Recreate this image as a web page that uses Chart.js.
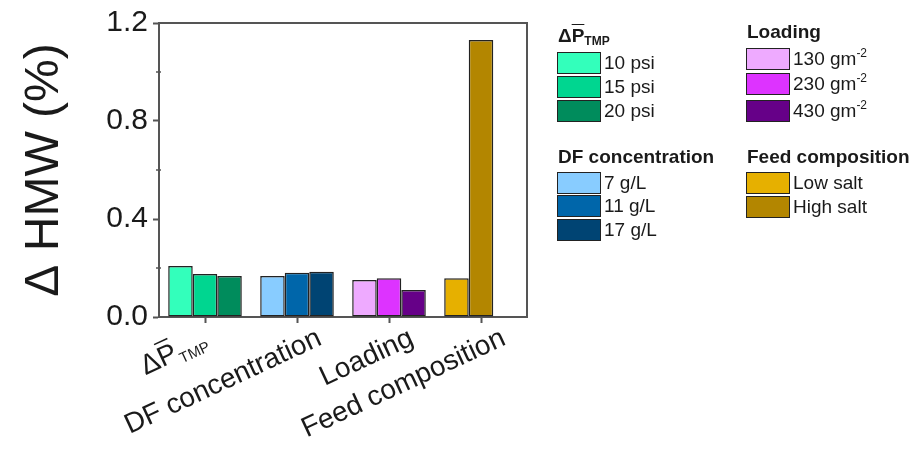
<!DOCTYPE html>
<html>
<head>
<meta charset="utf-8">
<script src="https://cdn.jsdelivr.net/npm/chart.js@4"></script>
<style>
  body { margin: 0; background: #fff; }
  #wrap { position: relative; width: 920px; height: 453px; }
  #legend { position: absolute; left: 0; top: 0; font-family: 'Liberation Sans', Arial, sans-serif; color: #1a1a1a; }
  .hdr { position: absolute; font-weight: bold; font-size: 19px; line-height: 20px; white-space: nowrap; }
  .hdr sub { font-size: 12px; line-height: 0; position: relative; top: 3px; vertical-align: baseline; }
  .ov { text-decoration: overline; }
  .sw { position: absolute; box-sizing: border-box; width: 44px; height: 22px; border: 1.5px solid #222; }
  .lbl { position: absolute; font-size: 19px; line-height: 22px; white-space: nowrap; }
  .lbl sup { font-size: 12px; line-height: 0; position: relative; top: -8px; vertical-align: baseline; }
</style>
</head>
<body>
<div id="wrap">
  <canvas id="hmwChart" width="920" height="453"></canvas>
  <div id="legend"></div>
</div>
<script>
// categories on the x axis ("_" marks the subscript of the first one)
const categories = ['ΔP_TMP', 'DF concentration', 'Loading', 'Feed composition'];

// values (ΔHMW, %)
const tmpValues = [0.208, 0.176, 0.167];
const dfValues = [0.167, 0.181, 0.185];
const loadingValues = [0.151, 0.158, 0.110];
const feedValues = [0.158, 1.131];

const yTicks = [0.0, 0.4, 0.8, 1.2];

// legend texts
const tmpLabels = ['10 psi', '15 psi', '20 psi'];
const dfLabels = ['7 g/L', '11 g/L', '17 g/L'];
const loadingLabels = ['130 gm<sup>-2</sup>', '230 gm<sup>-2</sup>', '430 gm<sup>-2</sup>'];
const feedLabels = ['Low salt', 'High salt'];

// colours
const tmpColors = ['#33ffbb', '#00d690', '#008c5c'];
const dfColors = ['#88ccff', '#0066aa', '#004473'];
const loadingColors = ['#eeaaff', '#dd33ff', '#660088'];
const feedColors = ['#e6b000', '#b38600'];

const FONT = "'Liberation Sans', Arial, sans-serif";
Chart.defaults.font.family = FONT;
Chart.defaults.color = '#1a1a1a';

// one dataset per slot inside a group; each bar gets its own colour
const groups = [tmpValues, dfValues, loadingValues, feedValues];
const groupColors = [tmpColors, dfColors, loadingColors, feedColors];
const datasets = [0, 1, 2].map(slot => ({
  data: groups.map(g => g[slot] === undefined ? null : g[slot]),
  backgroundColor: groupColors.map(c => c[slot] || 'transparent'),
  borderColor: '#222',
  borderWidth: 1.5,
  borderSkipped: false,
  categoryPercentage: 0.8,
  barPercentage: 1.0
}));

// top + right frame and the small minor ticks on the y axis
const framePlugin = {
  id: 'frame',
  afterDraw(chart) {
    const { ctx, chartArea: a } = chart;
    const y = chart.scales.y;
    ctx.save();
    ctx.strokeStyle = '#555';
    ctx.lineWidth = 2;
    ctx.beginPath();
    ctx.moveTo(a.left, a.top);
    ctx.lineTo(a.right, a.top);
    ctx.lineTo(a.right, a.bottom);
    ctx.stroke();
    ctx.lineWidth = 1.5;
    [0.2, 0.6, 1.0].forEach(v => {
      const py = y.getPixelForValue(v);
      ctx.beginPath();
      ctx.moveTo(a.left - 3, py);
      ctx.lineTo(a.left + 2, py);
      ctx.stroke();
    });
    ctx.restore();
  }
};

// rotated category labels (the first one needs an overbar and a subscript)
const xLabelPlugin = {
  id: 'xLabels',
  afterDraw(chart) {
    const ctx = chart.ctx;
    const xs = chart.scales.x;
    ctx.save();
    ctx.fillStyle = '#1a1a1a';
    ctx.textBaseline = 'alphabetic';
    ctx.textAlign = 'left';
    categories.forEach((cat, i) => {
      const px = xs.getPixelForValue(i);
      const parts = cat.split('_');
      ctx.save();
      // the subscripted label sits further left, as in the original
      ctx.translate(px + (parts[1] ? 3 : 26), parts[1] ? 346 : 344);
      ctx.rotate(-25 * Math.PI / 180);
      ctx.font = '28px ' + FONT;
      const wMain = ctx.measureText(parts[0]).width;
      let wSub = 0;
      if (parts[1]) {
        ctx.font = '15px ' + FONT;
        wSub = ctx.measureText(parts[1]).width;
      }
      const x0 = -(wMain + wSub);
      ctx.font = '28px ' + FONT;
      ctx.fillText(parts[0], x0, 0);
      if (parts[1]) {
        // overbar above the P
        const wDelta = ctx.measureText(parts[0].slice(0, -1)).width;
        ctx.strokeStyle = '#1a1a1a';
        ctx.lineWidth = 1.5;
        ctx.beginPath();
        ctx.moveTo(x0 + wDelta + 2, -24);
        ctx.lineTo(x0 + wMain - 2, -24);
        ctx.stroke();
        ctx.font = '15px ' + FONT;
        ctx.fillText(parts[1], x0 + wMain + 1, 5);
      }
      ctx.restore();
    });
    ctx.restore();
  }
};

const chart = new Chart(document.getElementById('hmwChart'), {
  type: 'bar',
  data: { labels: categories, datasets: datasets },
  options: {
    responsive: false,
    animation: false,
    layout: { padding: { left: 0, right: 393, top: 23, bottom: 0 } },
    plugins: { legend: { display: false }, tooltip: { enabled: false } },
    scales: {
      x: {
        afterFit: s => { s.height = 136; },
        grid: { offset: false, drawOnChartArea: false, drawTicks: true, tickLength: 6, tickColor: '#555', tickWidth: 2 },
        border: { display: true, color: '#555', width: 2 },
        ticks: { display: false }
      },
      y: {
        min: 0,
        max: 1.2,
        afterFit: s => { s.width = 159; },
        afterBuildTicks: s => { s.ticks = [0, 0.2, 0.4, 0.6, 0.8, 1.0, 1.2].map(v => ({ value: v })); },
        grid: {
          drawOnChartArea: false, drawTicks: true, tickLength: 6, tickWidth: 2,
          tickColor: c => yTicks.some(t => Math.abs(t - c.tick.value) < 1e-6) ? '#555' : 'transparent'
        },
        border: { display: true, color: '#555', width: 2 },
        ticks: {
          padding: 5,
          font: { size: 30 },
          color: '#1a1a1a',
          callback: v => yTicks.some(t => Math.abs(t - v) < 1e-6) ? v.toFixed(1) : ''
        },
        title: {
          display: true,
          text: 'Δ HMW (%)',
          font: { size: 48 },
          color: '#1a1a1a',
          padding: { top: 16, bottom: 0 }
        }
      }
    }
  },
  plugins: [framePlugin, xLabelPlugin]
});

// legend built as html next to the chart
const legendLayout = [
  { title: 'Δ<span class="ov">P</span><sub>TMP</sub>', labels: tmpLabels, colors: tmpColors, x: 557, hy: 26, rows: [52, 76, 100] },
  { title: 'Loading', labels: loadingLabels, colors: loadingColors, x: 746, hy: 22, rows: [48, 73, 100] },
  { title: 'DF concentration', labels: dfLabels, colors: dfColors, x: 557, hy: 147, rows: [172, 195, 219] },
  { title: 'Feed composition', labels: feedLabels, colors: feedColors, x: 746, hy: 147, rows: [172, 196] }
];
const legendEl = document.getElementById('legend');
legendLayout.forEach(g => {
  let html = `<div class="hdr" style="left:${g.x + 1}px;top:${g.hy}px">${g.title}</div>`;
  g.labels.forEach((lab, i) => {
    html += `<div class="sw" style="left:${g.x}px;top:${g.rows[i]}px;background:${g.colors[i]}"></div>`;
    html += `<div class="lbl" style="left:${g.x + 47}px;top:${g.rows[i]}px">${lab}</div>`;
  });
  legendEl.insertAdjacentHTML('beforeend', html);
});
</script>
</body>
</html>
